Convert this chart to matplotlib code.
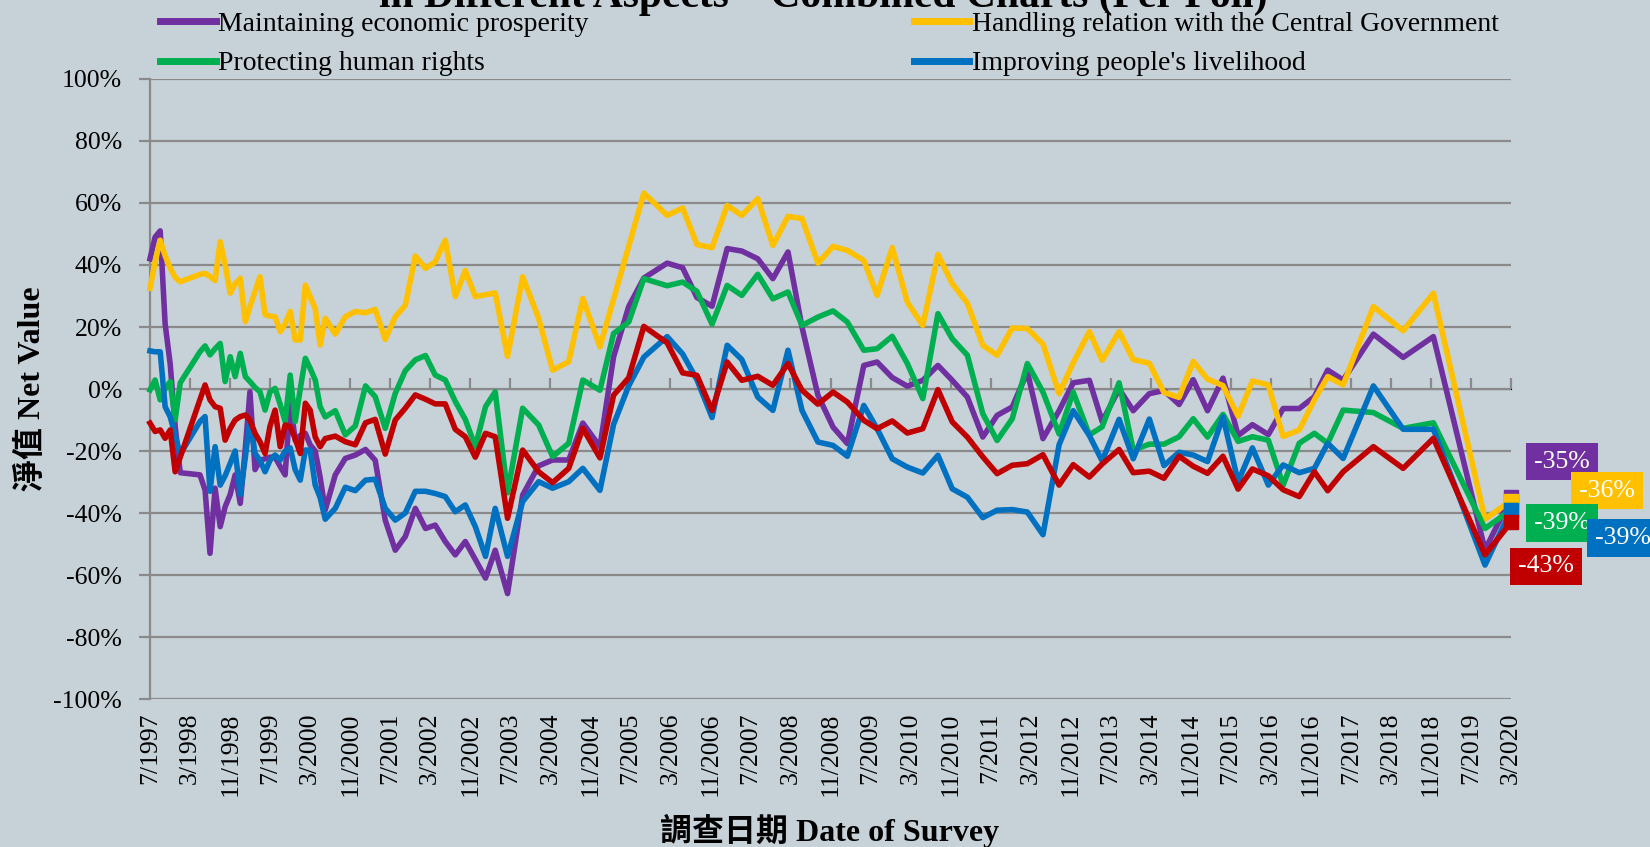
import numpy as np
import pandas as pd
import matplotlib
matplotlib.use("Agg")
import matplotlib.pyplot as plt
import matplotlib.dates as mdates
import matplotlib.ticker as mticker
from matplotlib.lines import Line2D

# ==============================
# Data (net values in %, per poll)
# ==============================

poll_dates = [
    "1997-07-01", "1997-08-01", "1997-09-01", "1997-10-01", "1997-11-01", "1997-12-01", "1998-01-01",
    "1998-05-01", "1998-06-01", "1998-07-01", "1998-08-01", "1998-09-01", "1998-10-01", "1998-11-01", "1998-12-01",
    "1999-01-01", "1999-02-01", "1999-03-01", "1999-04-01", "1999-05-01", "1999-06-01",
    "1999-07-01", "1999-08-01", "1999-09-01", "1999-10-01", "1999-11-01", "1999-12-01",
    "2000-01-01", "2000-02-01", "2000-03-01", "2000-04-01", "2000-05-01", "2000-06-01",
    "2000-08-01", "2000-10-01", "2000-12-01", "2001-02-01", "2001-04-01", "2001-06-01",
    "2001-08-01", "2001-10-01", "2001-12-01", "2002-02-01", "2002-04-01", "2002-06-01",
    "2002-08-01", "2002-10-01", "2002-12-01", "2003-02-01", "2003-04-01",
    "2003-06-15", "2003-09-15", "2003-12-21", "2004-03-15", "2004-06-21", "2004-09-15", "2004-12-28",
    "2005-03-21", "2005-06-21", "2005-09-21", "2006-02-10", "2006-05-15", "2006-08-10", "2006-11-10",
    "2007-02-10", "2007-05-10", "2007-08-15", "2007-11-15", "2008-02-15", "2008-05-10", "2008-08-15", "2008-11-15",
    "2009-02-10", "2009-05-21", "2009-08-10", "2009-11-10", "2010-02-10", "2010-05-15", "2010-08-15", "2010-11-10",
    "2011-02-10", "2011-05-15", "2011-08-10", "2011-11-10", "2012-02-10", "2012-05-15", "2012-08-21", "2012-11-15",
    "2013-02-21", "2013-05-10", "2013-08-21", "2013-11-15", "2014-02-21", "2014-05-21", "2014-08-21", "2014-11-15",
    "2015-02-10", "2015-05-15", "2015-08-15", "2015-11-10", "2016-02-15", "2016-05-15", "2016-08-21", "2016-11-21",
    "2017-02-10", "2017-05-15", "2017-11-15", "2018-05-15", "2018-11-15", "2019-09-25", "2020-03-01",
]

economy = [
    42, 49, 51, 21, 8, -12, -27,
    -27.7, -32.6, -53, -32, -44.4, -38, -34, -27.7,
    -36.9, -19, -0.9, -26, -23, -22.5,
    -22, -22, -25, -27.7, -4, -16.5,
    -15, -14.3, -18, -20, -28.5, -39,
    -27.7, -22.4, -21.3, -19.5, -23, -42.3,
    -52, -47.6, -38.5, -45, -43.9, -49.2,
    -53.5, -49.2, -55, -61, -52,
    -66, -34.2, -24.8, -22.9, -22.9, -11, -18.6,
    10.4, 26.6, 35.8, 40.6, 39.1, 29.5, 26.7,
    45.3, 44.5, 42, 35.6, 44.2, 20, -2, -12.3,
    -17.6, 7.6, 8.7, 3.7, 0.9, 2.8, 7.6, 2.8,
    -2.6, -15.5, -8.5, -5.8, 5.5, -16, -7, 2,
    2.8, -10.5, 0, -7, -1.5, -0.5, -5, 3,
    -7, 3.5, -15, -11.5, -14.7, -6.3, -6.3, -2.5,
    6.1, 2.9, 17.7, 10.2, 16.9, -51.9, -35,
]

central_gov = [
    32.5, 41, 48, 43, 39, 36, 34.6,
    37, 37.3, 36.3, 35, 47.5, 40, 30.9, 34,
    35.7, 21.7, 26.5, 31.5, 36.2, 24,
    23.5, 23.3, 18.5, 21, 25, 15.8,
    15.8, 33.5, 29.8, 26, 14.2, 22.8,
    17.7, 23.3, 25, 24.6, 25.7, 16,
    23.3, 27, 42.9, 38.9, 41, 48,
    29.8, 38.2, 29.8, 30.4, 31,
    10.5, 36.2, 22.8, 6.1, 8.8, 29.2, 13.6,
    29, 46, 63.2, 56, 58.4, 46.6, 45.6,
    59.2, 56, 61.4, 46.3, 55.7, 55, 40.6, 46,
    44.7, 41.5, 30.2, 45.6, 28, 20.5, 43.4, 34,
    27.7, 14.1, 10.9, 19.7, 19.5, 14.5, -1.5, 8.5,
    18.5, 9.3, 18.5, 9.5, 8.3, -1.1, -2.7, 8.9,
    3.2, 1.1, -8.8, 2.6, 1.3, -15.3, -13.2, -3.5,
    4, 1.3, 26.6, 18.8, 30.9, -42, -36,
]

human_rights = [
    -0.3, 2.9, -3.5, 0, 2.4, -10, 2,
    12, 13.9, 11, 13, 14.7, 2.4, 10.4, 4,
    11.5, 4, 2.4, 0.5, -0.9, -6.8,
    -0.9, 0.2, -5, -10.5, 4.5, -10.5,
    0, 9.9, 6.7, 2.9, -5.7, -9,
    -7, -14.8, -11.9, 1, -2.5, -12.7,
    -1.4, 5.9, 9.4, 10.8, 4.5, 2.9,
    -4, -9.8, -18.6, -5.7, -0.9,
    -33.5, -6.2, -11.6, -21.8, -17.5, 2.9, -0.4,
    17.9, 21.6, 35.6, 33.3, 34.5, 31.5, 20.9,
    33.4, 30.2, 37, 29.1, 31.3, 20.5, 23.2, 25.2,
    21.6, 12.5, 13, 17, 8.2, -3.1, 24.3, 16.2,
    10.9, -8, -16.6, -9.6, 8.2, -1, -14.5, -1,
    -14.8, -12.2, 2, -19.7, -17.8, -17.8, -15.4, -9.6,
    -15.5, -8.2, -16.9, -15.4, -16.5, -31, -17.5, -14.3,
    -17.5, -6.8, -7.6, -12.7, -10.9, -45, -39,
]

livelihood = [
    12.3, 12, 12, -5.7, -9, -15, -21,
    -10.5, -8.9, -33, -18.6, -31, -28, -24, -20,
    -34, -22, -10, -20.8, -23, -26.7,
    -23, -21.3, -22.9, -20, -19, -26,
    -29.4, -19.7, -19.7, -31, -35, -42,
    -38.5, -31.7, -32.8, -29.4, -29.1, -38.5,
    -42.3, -40, -33, -33, -33.7, -34.7,
    -39.6, -37.4, -44.4, -54, -38.5,
    -54, -36.3, -29.9, -32, -29.9, -25.6, -32.7,
    -11.4, 1, 10.3, 16.9, 11.3, 3, -9.2,
    14.1, 9.5, -2.6, -6.9, 12.5, -6.9, -17.1, -18.2,
    -21.7, -5.3, -12.8, -22.5, -25.2, -27.1, -21.4, -32.2,
    -34.9, -41.5, -39.1, -38.9, -39.7, -47, -18, -7,
    -15, -23.2, -9.8, -22.5, -9.7, -24.7, -20.4, -21.3,
    -23.4, -9, -29.9, -19, -31, -24.5, -27, -25.6,
    -17.5, -22.4, 1, -13, -13, -56.8, -39,
]

red_aspect = [
    -11, -13.7, -13.2, -15.9, -13.2, -26.7, -22,
    -3.4, 1.3, -3.5, -5.7, -6.2, -16.5, -12.7, -10,
    -8.9, -8.4, -10, -14.3, -17, -20.8,
    -12, -6.8, -18.6, -11.6, -12.2, -16,
    -20.8, -4.6, -6.8, -15.5, -18.6, -16,
    -15.2, -17, -18, -10.9, -9.8, -21,
    -10, -6.2, -1.9, -3.3, -4.8, -4.8,
    -13, -15.4, -22, -14.3, -15.4,
    -41.7, -19.7, -26.7, -30.2, -25.6, -12.7, -22.2,
    -2, 3.6, 20.2, 14.9, 5.2, 4.4, -6.9,
    8.7, 2.8, 4.1, 1.2, 8.2, -0.4, -4.9, -1,
    -4.2, -10.1, -12.8, -10.3, -14.2, -12.8, -0.2, -10.6,
    -15.5, -21.9, -27.3, -24.6, -24.1, -21.2, -31, -24.4,
    -28.4, -24.2, -19.5, -27, -26.5, -28.8, -21.7, -24.9,
    -27.2, -21.7, -32.3, -25.8, -28, -32.5, -34.7, -26.7,
    -32.8, -26.7, -18.6, -25.6, -15.9, -53.5, -43,
]

labels = [
    "Maintaining economic prosperity",
    "Handling relation with the Central Government",
    "Protecting human rights",
    "Improving people's livelihood",
    None,
]
colors = ["#7030A0", "#FFC000", "#00B050", "#0070C0", "#C00000"]
series = [economy, central_gov, human_rights, livelihood, red_aspect]

# pixel offsets of the end-value boxes from the last point
end_offsets = [(51, 36), (96, 10), (51, -13), (112, -28), (35, -44)]

# ==============================
# Style
# ==============================

BG = "#C6D1D8"
GRID = "#8A8A8A"
FONT = ["Liberation Serif", "Noto Sans CJK TC"]

plt.rcParams["font.family"] = FONT
plt.rcParams["axes.unicode_minus"] = False

# ==============================
# Plot
# ==============================

fig = plt.figure(figsize=(16.5, 8.47), dpi=100)
fig.patch.set_facecolor(BG)
ax = fig.add_axes([150 / 1650, 148 / 847, 1361 / 1650, 620 / 847])
ax.set_facecolor(BG)

x = pd.to_datetime(poll_dates)

for vals, color in zip(series, colors):
    v = np.array(vals) / 100
    ax.plot(x, v, color=color, lw=4.0, solid_joinstyle="round",
            marker="s", markevery=[len(v) - 1], ms=10.5, mec=color,
            clip_on=False, zorder=3)

for vals, color, off in zip(series, colors, end_offsets):
    ax.annotate(f"{vals[-1]:.0f}%", xy=(x[-1], vals[-1] / 100),
                xytext=off, textcoords="offset pixels",
                ha="center", va="center", color="white", fontsize=18.5,
                bbox=dict(boxstyle="square,pad=0.3", fc=color, ec="none"),
                annotation_clip=False, zorder=5)

# axes
ax.set_xlim(pd.Timestamp("1997-07-01"), pd.Timestamp("2020-03-01"))
ax.set_ylim(-1, 1)
ax.set_yticks(np.round(np.linspace(-1, 1, 11), 2))
ax.yaxis.set_major_formatter(mticker.FuncFormatter(lambda v, p: f"{round(v * 100):d}%"))
ax.yaxis.grid(True, color=GRID, lw=1.6)
ax.set_axisbelow(True)

for s in ["top", "right", "bottom"]:
    ax.spines[s].set_visible(False)
ax.spines["left"].set_color(GRID)
ax.spines["left"].set_linewidth(1.6)

tick_dates = pd.date_range("1997-07-01", "2020-03-01", freq="8MS")
tick_labels = [f"{d.month}/{d.year}" for d in tick_dates]
ax.set_xticks(mdates.date2num(tick_dates))
ax.set_xticklabels(tick_labels, rotation=90)
ax.tick_params(axis="x", length=0, pad=10, labelsize=18.5)
ax.tick_params(axis="y", length=8, width=1.6, color=GRID, pad=12, labelsize=18.5)

# tick marks sit on the 0% line
sec = ax.secondary_xaxis(0.5)
sec.set_xticks(mdates.date2num(tick_dates))
sec.xaxis.set_major_formatter(mticker.NullFormatter())
sec.tick_params(axis="x", length=8, width=1.6, color=GRID, direction="out")
sec.spines["bottom"].set_color(GRID)
sec.spines["bottom"].set_linewidth(1.6)

# labels and title
fig.text(830 / 1650, 1 - 831 / 847, "調查日期 Date of Survey",
         ha="center", va="center", fontsize=23, fontweight="bold")
fig.text(32 / 1650, 1 - 389 / 847, "淨值 Net Value", rotation=90,
         ha="center", va="center", fontsize=23, fontweight="bold")
fig.text(823 / 1650, 1 - 7 / 847,
         "in Different Aspects \u2013 Combined Charts (Per Poll)",
         ha="center", va="baseline", fontsize=30, fontweight="bold")

# legend (red series has no entry)
handles, names = [], []
for i in [0, 2, 1, 3]:
    handles.append(Line2D([], [], color=colors[i], lw=5))
    names.append(labels[i])
fig.legend(handles, names, ncol=2, loc="upper left",
           bbox_to_anchor=(160 / 1650, 1 - 11.5 / 847), frameon=False,
           fontsize=20, handlelength=2.0, handletextpad=0.1,
           columnspacing=11.7, labelspacing=0.5,
           borderaxespad=0, borderpad=0)

fig.savefig("out.png", dpi=100, facecolor=BG)
